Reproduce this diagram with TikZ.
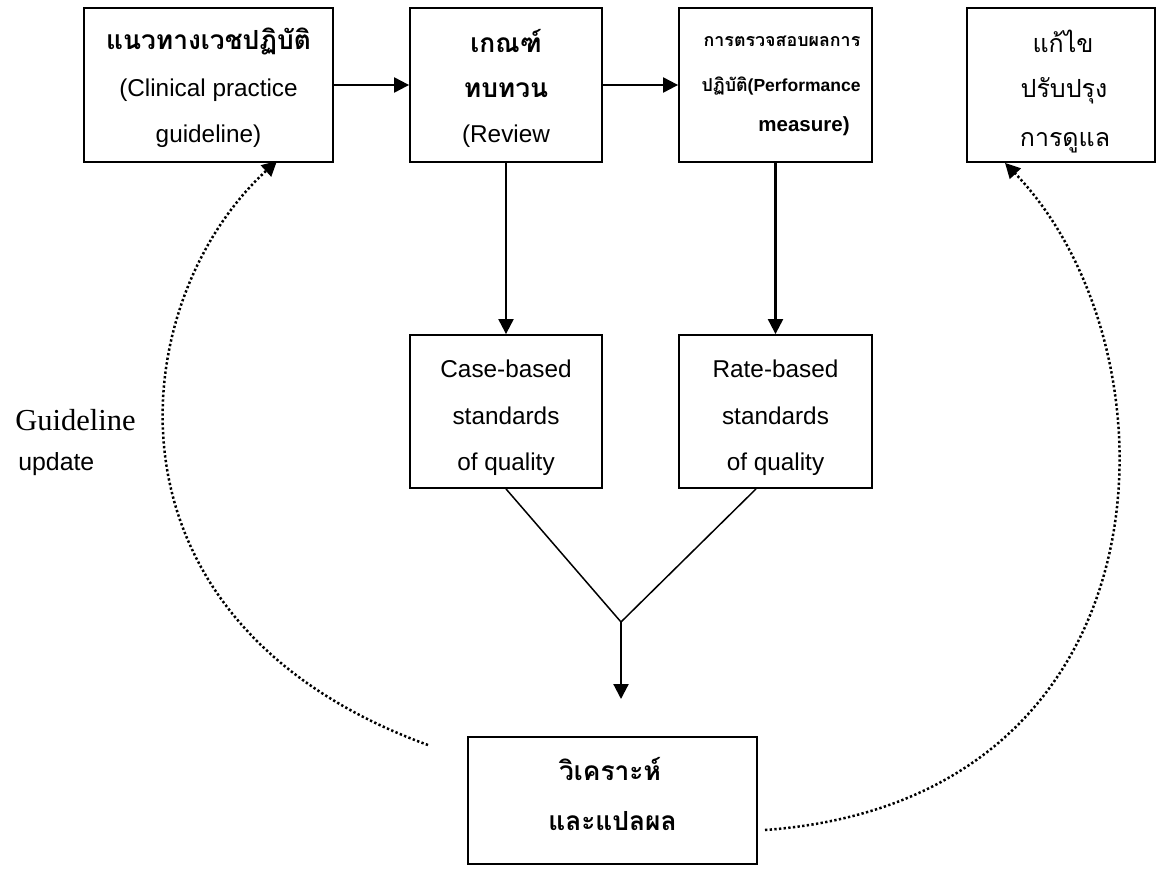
\documentclass[tikz,border=0pt]{standalone}
\usepackage{fontspec}
\setmainfont{Liberation Sans}
\newfontfamily\thaifont[Script=Thai]{Loma}
\newfontfamily\timesfont{Liberation Serif}
\usetikzlibrary{arrows.meta,calc}
\begin{document}
\begin{tikzpicture}[x=0.6pt,y=-0.6pt,
  box/.style={draw,line width=1.1pt,inner sep=0pt},
  ln/.style={inner sep=0pt,anchor=base},
  en/.style={ln,font=\fontsize{14.6pt}{17pt}\selectfont},
  enb/.style={ln,font=\bfseries\fontsize{12.3pt}{15pt}\selectfont},
  thb/.style={ln,font=\thaifont\bfseries\fontsize{15.8pt}{18pt}\selectfont},
  ths/.style={ln,font=\thaifont\bfseries\fontsize{10.7pt}{14pt}\selectfont},
  thr/.style={ln,font=\thaifont\fontsize{15pt}{18pt}\selectfont},
  flow/.style={line width=1.3pt,-{Triangle[length=9pt,width=9pt]}},
  fork/.style={line width=0.9pt},
  loop/.style={line width=1.5pt,dash pattern=on 1.4pt off 1.4pt,
    -{Triangle[length=9pt,width=9pt]}}]
\useasboundingbox (0,0) rectangle (1157,871);

% boxes
\node[box,minimum width=249*0.6pt,minimum height=154*0.6pt] (A) at (208.5,85) {};
\node[box,minimum width=192*0.6pt,minimum height=154*0.6pt] (B) at (506,85) {};
\node[box,minimum width=193*0.6pt,minimum height=154*0.6pt] (C) at (775.5,85) {};
\node[box,minimum width=188*0.6pt,minimum height=154*0.6pt] (D) at (1061,85) {};
\node[box,minimum width=192*0.6pt,minimum height=153*0.6pt] (E) at (506,411.5) {};
\node[box,minimum width=193*0.6pt,minimum height=153*0.6pt] (F) at (775.5,411.5) {};
\node[box,minimum width=289*0.6pt,minimum height=127*0.6pt] (G) at (612.5,800.5) {};

% box texts
\node[thb] (a1) at (208.5,50) {แนวทางเวชปฏิบัติ};
\node[en] (a2) at (208.5,97) {(Clinical practice};
\node[en] (a3) at (208.5,143) {guideline)};

\node[thb] (b1) at (506,53) {เกณฑ์};
\node[thb] (b2) at (506,98) {ทบทวน};
\node[en] (b3) at (506,143) {(Review};

\node[ths] (c1) at (782,47) {การตรวจสอบผลการ};
\node[ln] (c2) at (781,92) {{\thaifont\bfseries\fontsize{10.7pt}{14pt}\selectfont ปฏิบัติ}{\bfseries\fontsize{10.5pt}{14pt}\selectfont(Performance}};
\node[enb] (c3) at (804,132) {measure)};

\node[thr] (d1) at (1063,53) {แก้ไข};
\node[thr] (d2) at (1064,98) {ปรับปรุง};
\node[thr] (d3) at (1065,147) {การดูแล};

\node[en] (e1) at (506,377) {Case-based};
\node[en] (e2) at (506,424) {standards};
\node[en] (e3) at (506,470) {of quality};

\node[en] (f1) at (775.5,377) {Rate-based};
\node[en] (f2) at (775.5,424) {standards};
\node[en] (f3) at (775.5,470) {of quality};

\node[thb] (g1) at (610,780) {วิเคราะห์};
\node[thb] (g2) at (612.5,830) {และแปลผล};

% side label
\node[ln,anchor=base west,font=\timesfont\fontsize{18.3pt}{22pt}\selectfont] (gl) at (15,430) {Guideline};
\node[ln,anchor=base west,font=\fontsize{14.9pt}{18pt}\selectfont] (gu) at (18,470) {update};

% flow arrows
\draw[flow] (A) -- (B);
\draw[flow] (B) -- (C);
\draw[flow] (B) -- (E);
\draw[flow] (C) -- (F);

% merge of the two standards into the analysis
\coordinate (J) at (621,622);
\coordinate (T) at (621,699);
\draw[fork] (E.south) -- (J) -- ($(F.south)+(-19.5,0)$);
\draw[flow] (J) -- (T);

% feedback loops
\coordinate (L0) at (428,745);
\coordinate (R0) at (765,830);
\draw[loop] (L0) .. controls (85,620) and (125,300) .. ($(A.south)+(68.5,-2)$);
\draw[loop] (R0) .. controls (1178,800) and (1185,350) .. ($(D.south)+(-56,0)$);
\end{tikzpicture}
\end{document}
